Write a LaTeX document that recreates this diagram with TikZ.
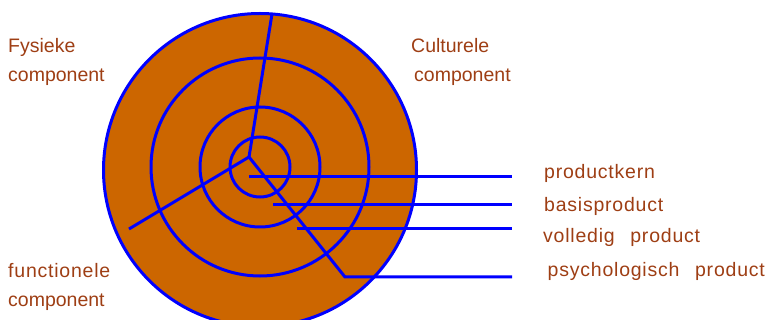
\documentclass[tikz,border=0pt]{standalone}
\usepackage{fontspec}
\setmainfont{Liberation Sans}
\newfontfamily\ruimfont{Liberation Sans}[LetterSpace=4]
\definecolor{schijf}{RGB}{204,102,0}
\definecolor{tekst}{RGB}{158,62,20}
\tikzset{
  lijn/.style={draw=blue,line width=3pt},
  tekstje/.style={anchor=base west,inner sep=0pt,text=tekst,
    font=\fontsize{19.5}{22}\selectfont},
  ruim/.style={tekstje,font=\ruimfont\fontsize{19.5}{22}\selectfont}
}

\begin{document}
\begin{tikzpicture}[x=1pt,y=-1pt]
  \useasboundingbox (0,0) rectangle (768,320);
  \clip (0,0) rectangle (768,320);
  \coordinate (M) at (260,170);
  \coordinate (N) at (260,167);
  \coordinate (K) at (249,157);
  \coordinate (top) at (272,14);
  \coordinate (links) at (129,229);
  \coordinate (knik) at (345,277);
  % schijf en ringen
  \filldraw[lijn,fill=schijf] (M) circle (156.5);
  \draw[lijn] (N) circle (109);
  \draw[lijn] (N) circle (60);
  \draw[lijn] (N) circle (30);
  % spaken
  \draw[lijn] (K) -- (top);
  \draw[lijn] (K) -- (links);
  \draw[lijn] (K) -- (knik) -- (512,277);
  % verwijslijnen
  \draw[lijn] (249,177) -- (512,177);
  \draw[lijn] (273,205) -- (512,205);
  \draw[lijn] (297,229) -- (512,229);
  % teksten
  \node[tekstje] (fys1) at (8,52.5) {Fysieke};
  \node[tekstje] (fys2) at (8,81.5) {component};
  \node[tekstje] (cul1) at (411,52.5) {Culturele};
  \node[tekstje] (cul2) at (414,81.5) {component};
  \node[ruim] (fun1) at (8,277.5) {functionele};
  \node[tekstje] (fun2) at (8,306.5) {component};
  \node[ruim] (kern) at (544,179) {productkern};
  \node[ruim] (basis) at (544,211.5) {basisproduct};
  \node[ruim] (vol) at (543,243) {volledig\hspace{0.8em}product};
  \node[ruim] (psy) at (547.5,276.5) {psychologisch\hspace{0.8em}product};
\end{tikzpicture}
\end{document}
